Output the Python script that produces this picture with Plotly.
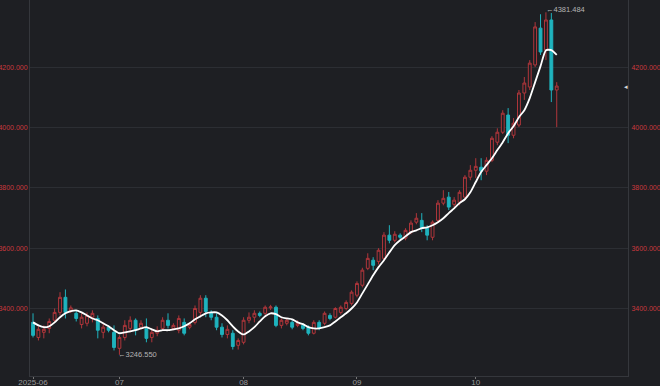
import plotly.graph_objects as go

# trading-day index (June 2025 .. Oct 2025), month tick labels
month_tick_idx = [0, 16, 39, 60, 82]
month_tick_text = ["2025-06", "07", "08", "09", "10"]

opens = [3354, 3304, 3321, 3334, 3361, 3387, 3437, 3392, 3384, 3347,
         3351, 3371, 3367, 3321, 3338, 3321, 3268, 3304, 3334, 3361,
         3338, 3334, 3304, 3318, 3334, 3361, 3334, 3328, 3354, 3338,
         3354, 3387, 3434, 3387, 3371, 3338, 3314, 3318, 3278, 3288,
         3361, 3371, 3384, 3384, 3402, 3404, 3344, 3351, 3354, 3344,
         3344, 3338, 3318, 3354, 3351, 3377, 3371, 3387, 3400, 3417,
         3444, 3477, 3533, 3560, 3556, 3566, 3643, 3626, 3643, 3633,
         3653, 3686, 3692, 3666, 3636, 3692, 3749, 3769, 3745, 3752,
         3769, 3835, 3858, 3868, 3855, 3891, 3951, 3984, 4041, 3974,
         4008, 4114, 4134, 4207, 4329, 4256, 4356, 4124]
highs = [3384, 3341, 3344, 3367, 3400, 3454, 3463, 3410, 3394, 3384,
         3387, 3394, 3377, 3351, 3344, 3344, 3311, 3361, 3374, 3367,
         3361, 3367, 3334, 3341, 3371, 3384, 3351, 3377, 3367, 3354,
         3410, 3444, 3444, 3394, 3384, 3351, 3344, 3328, 3301, 3371,
         3387, 3394, 3390, 3410, 3412, 3410, 3367, 3367, 3361, 3361,
         3351, 3344, 3361, 3361, 3390, 3384, 3404, 3410, 3427, 3460,
         3490, 3535, 3583, 3570, 3600, 3653, 3676, 3656, 3649, 3666,
         3692, 3716, 3716, 3676, 3692, 3759, 3792, 3786, 3769, 3792,
         3842, 3875, 3898, 3898, 3901, 3971, 3997, 4057, 4064, 4031,
         4124, 4167, 4223, 4349, 4375, 4381.484, 4379, 4150]
lows = [3304, 3294, 3301, 3318, 3354, 3377, 3367, 3385, 3357, 3334,
        3341, 3354, 3301, 3301, 3321, 3261, 3246.55, 3294, 3321, 3311,
        3331, 3288, 3288, 3308, 3328, 3334, 3328, 3318, 3311, 3331,
        3347, 3377, 3371, 3361, 3328, 3304, 3301, 3264, 3264, 3281,
        3351, 3354, 3371, 3377, 3395, 3338, 3334, 3344, 3331, 3338,
        3328, 3311, 3314, 3328, 3344, 3361, 3367, 3380, 3394, 3410,
        3437, 3470, 3527, 3527, 3546, 3560, 3616, 3619, 3629, 3626,
        3646, 3679, 3653, 3626, 3626, 3686, 3742, 3726, 3736, 3742,
        3762, 3825, 3832, 3825, 3842, 3885, 3941, 3978, 3948, 3964,
        4001, 4091, 4124, 4200, 4240, 4223, 4084, 4001]
closes = [3311, 3331, 3331, 3357, 3387, 3437, 3387, 3402, 3367, 3371,
          3377, 3384, 3328, 3338, 3328, 3271, 3304, 3344, 3361, 3328,
          3351, 3301, 3321, 3328, 3361, 3344, 3344, 3367, 3318, 3347,
          3400, 3434, 3390, 3371, 3338, 3314, 3331, 3274, 3294, 3361,
          3371, 3384, 3377, 3404, 3405, 3344, 3361, 3361, 3338, 3351,
          3334, 3318, 3354, 3334, 3384, 3367, 3400, 3404, 3420, 3454,
          3483, 3527, 3566, 3543, 3593, 3643, 3626, 3646, 3636, 3659,
          3683, 3699, 3666, 3643, 3686, 3749, 3765, 3736, 3759, 3785,
          3835, 3858, 3871, 3855, 3891, 3964, 3984, 4047, 3974, 4014,
          4114, 4147, 4213, 4333, 4250, 4356, 4124, 4137]
ma_line = [3354, 3344, 3338, 3341, 3354, 3371, 3384, 3391, 3394, 3387,
           3377, 3367, 3361, 3351, 3341, 3328, 3318, 3321, 3324, 3328,
           3334, 3338, 3331, 3324, 3328, 3328, 3331, 3334, 3341, 3351,
           3364, 3374, 3384, 3387, 3387, 3377, 3361, 3341, 3324, 3314,
           3324, 3338, 3357, 3374, 3384, 3381, 3371, 3367, 3364, 3354,
           3348, 3338, 3334, 3334, 3338, 3344, 3357, 3371, 3384, 3400,
           3420, 3450, 3480, 3510, 3537, 3560, 3586, 3610, 3626, 3639,
           3653, 3659, 3666, 3669, 3676, 3686, 3699, 3716, 3732, 3749,
           3762, 3785, 3819, 3852, 3875, 3898, 3925, 3951, 3981, 4004,
           4034, 4057, 4097, 4150, 4203, 4256, 4256, 4240]

y_ticks = [3400, 3600, 3800, 4000, 4200]
max_label = "←4381.484"
min_label = "←3246.550"

BG = "#1e1f23"
RED = "#b0363b"
CYAN = "#1fb3be"
LABEL_RED = "#c9383d"
GRID = "#2c2e33"
AXIS = "#35373c"

idx = list(range(len(opens)))
y_range = [3176.3, 4422.2]

fig = go.Figure()
fig.add_trace(go.Candlestick(
    x=idx, open=opens, high=highs, low=lows, close=closes,
    increasing=dict(line=dict(color=RED, width=1), fillcolor=BG),
    decreasing=dict(line=dict(color=CYAN, width=1), fillcolor=CYAN),
    whiskerwidth=0, showlegend=False, hoverinfo="skip"))
fig.add_trace(go.Scatter(
    x=idx, y=ma_line, mode="lines",
    line=dict(color="#ffffff", width=1.8, shape="spline", smoothing=0.6),
    showlegend=False, hoverinfo="skip"))
fig.add_trace(go.Scatter(x=[idx[0]], y=[closes[0]], yaxis="y2", mode="markers",
                         marker=dict(opacity=0), showlegend=False, hoverinfo="skip"))

ytick_text = [f"{v:.3f}" for v in y_ticks]

fig.update_layout(
    width=660, height=386,
    margin=dict(l=30, r=32, t=0, b=10),
    paper_bgcolor=BG, plot_bgcolor=BG,
    font=dict(family="Liberation Sans", size=8),
    boxgap=0.25,
    xaxis=dict(range=[-0.56, 110.2], tickmode="array", tickvals=month_tick_idx,
               ticktext=month_tick_text, showgrid=False, zeroline=False,
               showline=True, linecolor=AXIS, linewidth=1, automargin=False,
               ticks="outside", ticklen=2, tickcolor="#777777",
               ticklabelstandoff=-4,
               tickfont=dict(color="#9a9a9a", size=8),
               rangeslider=dict(visible=False)),
    yaxis=dict(range=y_range, tickmode="array", tickvals=y_ticks, ticktext=ytick_text,
               showgrid=True, gridcolor=GRID, gridwidth=1, zeroline=False,
               showline=True, linecolor=AXIS, linewidth=1, ticks="", automargin=False,
               ticklabelstandoff=0,
               tickfont=dict(color=LABEL_RED, size=7)),
    yaxis2=dict(range=y_range, overlaying="y", side="right", tickmode="array",
                tickvals=y_ticks, ticktext=ytick_text, showgrid=False, zeroline=False,
                showline=True, linecolor=AXIS, linewidth=1, ticks="", automargin=False,
                ticklabelstandoff=1,
                tickfont=dict(color=LABEL_RED, size=7)),
    annotations=[
        dict(x=95, y=highs[95], text=max_label, showarrow=False, xanchor="left",
             yanchor="middle", yshift=3, xshift=-2, font=dict(color="#b4b4b4", size=7.5)),
        dict(x=16, y=lows[16], text=min_label, showarrow=False, xanchor="left",
             yanchor="middle", xshift=-3, font=dict(color="#b4b4b4", size=7.5)),
        dict(xref="paper", x=1.0, y=closes[-1], text="◂", showarrow=False,
             xanchor="right", yanchor="middle", xshift=2, font=dict(color="#d8d8d8", size=7)),
    ],
)

fig.write_html("out.html")
